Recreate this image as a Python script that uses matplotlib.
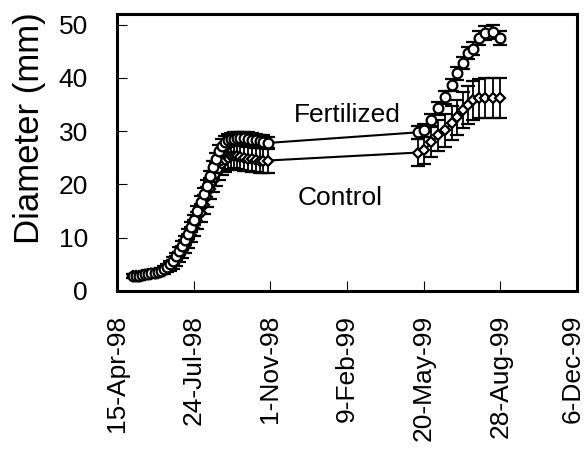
import matplotlib
matplotlib.use("Agg")
import matplotlib.pyplot as plt
import matplotlib.dates as mdates
import matplotlib.transforms as mtransforms
import numpy as np

plt.rcParams['font.family'] = ['Liberation Sans', 'DejaVu Sans']

# 1998 season measurement dates
dates_98 = ["1998-05-06", "1998-05-10", "1998-05-14", "1998-05-18", "1998-05-22",
            "1998-05-26", "1998-05-30", "1998-06-03", "1998-06-07", "1998-06-11",
            "1998-06-15", "1998-06-19", "1998-06-23", "1998-06-27", "1998-07-01",
            "1998-07-05", "1998-07-09", "1998-07-13", "1998-07-17", "1998-07-21",
            "1998-07-25", "1998-07-29", "1998-08-02", "1998-08-06", "1998-08-10",
            "1998-08-14", "1998-08-18", "1998-08-22", "1998-08-26", "1998-08-30",
            "1998-09-03", "1998-09-07", "1998-09-11", "1998-09-15", "1998-09-19",
            "1998-09-23", "1998-09-28", "1998-10-03", "1998-10-08", "1998-10-13",
            "1998-10-18", "1998-10-23", "1998-10-29"]
fert_98 = [2.8, 2.9, 2.9, 3.0, 3.1, 3.2, 3.3, 3.4, 3.6, 3.8,
           4.1, 4.5, 5.0, 5.7, 6.5, 7.5, 8.5, 9.5, 10.7, 12.0,
           13.3, 15.0, 16.8, 18.3, 19.7, 21.5, 23.3, 24.8, 26.2, 27.3,
           27.9, 28.3, 28.5, 28.6, 28.7, 28.7, 28.7, 28.6, 28.4, 28.3,
           28.1, 28.0, 27.8]
fert_err_98 = [0.3, 0.3, 0.3, 0.3, 0.3, 0.3, 0.4, 0.4, 0.4, 0.4,
               0.5, 0.5, 0.6, 0.6, 0.7, 0.7, 0.8, 0.8, 0.9, 0.9,
               1.0, 1.0, 1.0, 1.1, 1.1, 1.1, 1.1, 1.2, 1.2, 1.2,
               1.2, 1.2, 1.2, 1.2, 1.2, 1.2, 1.2, 1.2, 1.2, 1.2,
               1.2, 1.2, 1.2]
ctrl_98 = [2.8, 2.8, 2.9, 3.0, 3.0, 3.1, 3.2, 3.3, 3.4, 3.6,
           3.8, 4.1, 4.5, 5.0, 5.6, 6.4, 7.3, 8.3, 9.4, 10.6,
           11.8, 13.2, 14.7, 16.2, 17.7, 19.2, 20.6, 21.9, 23.0, 23.9,
           24.6, 25.0, 25.3, 25.4, 25.3, 25.1, 24.9, 24.8, 24.7, 24.6,
           24.5, 24.5, 24.5]
ctrl_err_98 = [0.3, 0.3, 0.3, 0.3, 0.4, 0.4, 0.4, 0.4, 0.5, 0.5,
               0.6, 0.6, 0.7, 0.8, 0.9, 1.0, 1.1, 1.2, 1.3, 1.4,
               1.5, 1.6, 1.7, 1.8, 1.9, 2.0, 2.0, 2.1, 2.1, 2.2,
               2.2, 2.2, 2.3, 2.3, 2.3, 2.3, 2.3, 2.3, 2.3, 2.3,
               2.3, 2.3, 2.3]

# 1999 season
dates_99 = ["1999-05-13", "1999-05-21", "1999-05-30", "1999-06-08", "1999-06-17",
            "1999-06-26", "1999-07-03", "1999-07-10", "1999-07-17", "1999-07-24",
            "1999-07-31", "1999-08-08", "1999-08-18", "1999-08-28"]
fert_99 = [29.8, 30.2, 32.1, 34.3, 36.4, 38.7, 40.9, 42.8, 44.7, 45.5,
           47.5, 48.5, 48.7, 47.5]
fert_err_99 = [1.2, 1.2, 1.2, 1.2, 1.2, 1.2, 1.2, 1.2, 1.2, 1.2,
               1.3, 1.3, 1.3, 1.3]
ctrl_99 = [26.0, 26.4, 27.9, 29.2, 30.2, 31.5, 32.6, 34.0, 34.9, 35.8,
           36.2, 36.2, 36.2, 36.2]
ctrl_err_99 = [2.5, 2.6, 2.8, 3.0, 3.1, 3.2, 3.3, 3.4, 3.5, 3.6,
               3.7, 3.8, 3.8, 3.8]

tick_dates = ["1998-04-15", "1998-07-24", "1998-11-01", "1999-02-09",
              "1999-05-20", "1999-08-28", "1999-12-06"]
tick_labels = ["15-Apr-98", "24-Jul-98", "1-Nov-98", "9-Feb-99",
               "20-May-99", "28-Aug-99", "6-Dec-99"]

x = mdates.datestr2num(dates_98 + dates_99)
fert = fert_98 + fert_99
fert_err = fert_err_98 + fert_err_99
ctrl = ctrl_98 + ctrl_99
ctrl_err = ctrl_err_98 + ctrl_err_99
ticks = mdates.datestr2num(tick_dates)

fig = plt.figure(figsize=(5.87, 4.51), dpi=100)
ax = fig.add_axes([0.1993, 0.3548, 0.7836, 0.614])

common = dict(color='black', ecolor='black', elinewidth=1.3, capsize=5,
              capthick=1.3, markeredgewidth=1.6,
              markerfacecolor='white', markeredgecolor='black', linewidth=1.5)
ax.errorbar(x, ctrl, yerr=ctrl_err, marker='D', markersize=5.5, zorder=2, **common)
ax.errorbar(x, fert, yerr=fert_err, marker='o', markersize=7, zorder=3, **common)

ax.text(mdates.datestr2num("1999-02-09"), 33.0, "Fertilized", fontsize=19, ha='center', va='center')
ax.text(mdates.datestr2num("1999-01-31"), 17.5, "Control", fontsize=19, ha='center', va='center')

ax.set_xlim(ticks[0], ticks[-1])
ax.set_ylim(0, 52)
ax.set_xticks(ticks)
ax.set_xticklabels(tick_labels, rotation=90)
ax.set_yticks(np.arange(0, 51, 10))
ax.tick_params(direction='in', length=7, width=0.8, labelsize=19)
ax.tick_params(axis='x', pad=17)
ax.tick_params(axis='y', pad=21)
ax.set_ylabel("Diameter (mm)", fontsize=25)
ax.yaxis.set_label_coords(-0.155, 0.588)
for s in ax.spines.values():
    s.set_linewidth(2.2)

# last date label sits at the figure edge, nudge it in a little
last = ax.get_xticklabels()[-1]
last.set_transform(last.get_transform() +
                   mtransforms.ScaledTranslation(-4 / 100, 0, fig.dpi_scale_trans))

fig.savefig("out.png", dpi=100)
